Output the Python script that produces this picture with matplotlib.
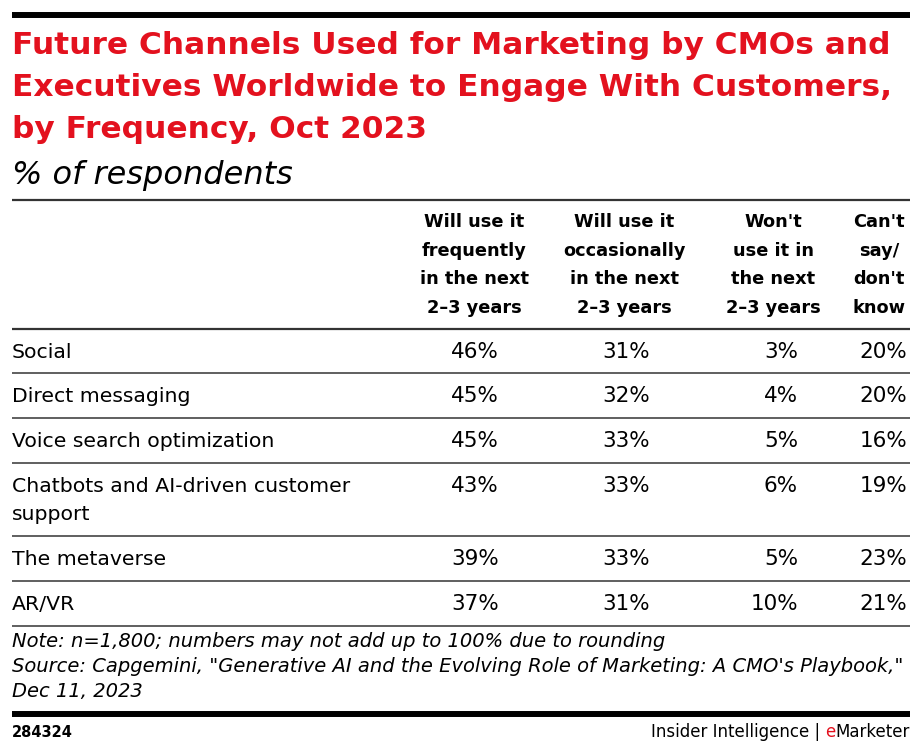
import matplotlib
matplotlib.use("Agg")
import matplotlib.pyplot as plt

channels = ["Social", "Direct messaging", "Voice search optimization",
            "Chatbots and AI-driven customer\nsupport", "The metaverse", "AR/VR"]
headers = ["Will use it\nfrequently\nin the next\n2\u20133 years",
           "Will use it\noccasionally\nin the next\n2\u20133 years",
           "Won't\nuse it in\nthe next\n2\u20133 years",
           "Can't\nsay/\ndon't\nknow"]
frequently = [46, 45, 45, 43, 39, 37]
occasionally = [31, 32, 33, 33, 33, 31]
wont_use = [3, 4, 5, 6, 5, 10]
cant_say = [20, 20, 16, 19, 23, 21]

title_lines = ["Future Channels Used for Marketing by CMOs and",
               "Executives Worldwide to Engage With Customers,",
               "by Frequency, Oct 2023"]
subtitle = "% of respondents"
note_lines = ["Note: n=1,800; numbers may not add up to 100% due to rounding",
              "Source: Capgemini, \"Generative AI and the Evolving Role of Marketing: A CMO's Playbook,\"",
              "Dec 11, 2023"]
chart_id = "284324"

RED = "#e3111e"
plt.rcParams["font.family"] = ["DejaVu Sans"]

W, H = 922, 753
fig = plt.figure(figsize=(W / 100, H / 100), dpi=100)
ax = fig.add_axes([0, 0, 1, 1])
ax.set_xlim(0, W)
ax.set_ylim(H, 0)
ax.axis("off")

L, R = 12, 910


def hline(y, lw, color):
    ax.plot([L, R], [y, y], color=color, lw=lw, solid_capstyle="butt")


# top bar + title
hline(15, 4.3, "black")
for k, line in enumerate(title_lines):
    ax.text(L, 54 + k * 42, line, color=RED, fontsize=22.5, fontweight="bold",
            va="baseline", ha="left")
ax.text(L, 184, subtitle, fontsize=23, style="italic", va="baseline")

# header
hline(200, 1.6, "#333333")
col_centers = [474, 624, 773, 879]
for cx, h in zip(col_centers, headers):
    for k, line in enumerate(h.split("\n")):
        ax.text(cx, 227 + k * 28.5, line, fontsize=12.8, fontweight="bold",
                ha="center", va="baseline")
hline(329, 1.6, "#333333")

# rows
col_right = [499, 650, 798, 907]
row_lines = [329, 373, 418, 463, 536, 581, 626]
for i, name in enumerate(channels):
    base = row_lines[i] + 29
    for k, line in enumerate(name.split("\n")):
        ax.text(L, base + k * 28, line, fontsize=14.7, va="baseline", ha="left")
    for xr, vals in zip(col_right, [frequently, occasionally, wont_use, cant_say]):
        ax.text(xr, base, f"{vals[i]}%", fontsize=15.5, ha="right", va="baseline")
    hline(row_lines[i + 1], 1.2, "#444444")

for k, line in enumerate(note_lines):
    ax.text(L, 647 + k * 25, line, fontsize=14, style="italic",
            va="baseline", ha="left")

# bottom bar + footer
hline(714, 4.3, "black")
ax.text(L, 737, chart_id, fontsize=10.5, fontweight="bold", va="baseline")

renderer = fig.canvas.get_renderer()
t = ax.text(R, 737, "Marketer", fontsize=12, va="baseline", ha="right")
x0 = t.get_window_extent(renderer).x0
t = ax.text(x0, 737, "e", fontsize=12, color=RED, va="baseline", ha="right")
x0 = t.get_window_extent(renderer).x0
ax.text(x0, 737, "Insider Intelligence | ", fontsize=12, va="baseline", ha="right")

fig.savefig("out.png", dpi=100)
